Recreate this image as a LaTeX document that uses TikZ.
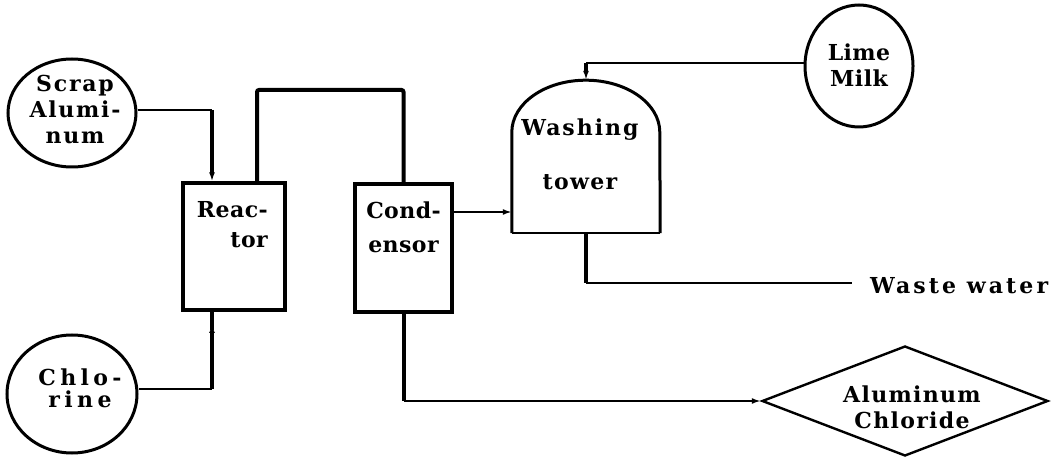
\documentclass[tikz,border=0pt]{standalone}
\usepackage{fontspec}
\setmainfont{DejaVu Serif}
\usetikzlibrary{shapes.geometric,arrows.meta,calc}
\newcommand\lf[2]{\bfseries\fontsize{22}{#1}\selectfont\addfontfeature{LetterSpace=#2}}
\begin{document}
\begin{tikzpicture}[x=1pt,y=1pt,
  txt/.style={inner sep=0pt, align=center},
  vessel/.style={draw, line width=3pt, ellipse, inner sep=0pt},
  unitbox/.style={draw, line width=3.4pt, rectangle, inner sep=0pt},
  thinln/.style={line width=1.8pt},
  pipe/.style={line width=4pt},
  tip/.style={-{Latex[length=9pt,width=6pt]}},
]
\useasboundingbox (0,0) rectangle (1057,458);

% vessels
\node[vessel, minimum width=128pt, minimum height=108pt] (scrap) at (72,345) {};
\node[vessel, minimum width=130pt, minimum height=118pt] (chlor) at (72,64) {};
\node[vessel, minimum width=108pt, minimum height=122pt] (lime) at (859,392) {};

% units
\node[unitbox, minimum width=102pt, minimum height=127pt] (reactor) at (234,211.5) {};
\node[unitbox, minimum width=97pt, minimum height=128pt] (condensor) at (403.5,210) {};
\node[inner sep=0pt, minimum width=148pt, minimum height=153pt] (tower) at (586,301.5) {};
\draw[line width=3pt] (tower.south west) -- ++(0,101)
  arc[start angle=180,end angle=0,x radius=74,y radius=52] -- (tower.south east);
\draw[line width=2pt] (tower.south west) -- (tower.south east);
\node[draw, diamond, line width=2.4pt, minimum width=286pt, minimum height=110pt, inner sep=0pt] (alcl) at (905,57) {};

% labels
\node[txt, font={\lf{26}{8}}] at (75,349) {Scrap\\Alumi-\\num};
\node[txt, font={\lf{22}{20}}] at (80,70) {Chlo-\\rine};
\node[txt, font={\lf{26}{2}}] at (859,393) {Lime\\Milk};
\node[txt, align=right, anchor=north east, font={\lf{30}{2}}] at (268,257) {Reac-\\tor};
\node[txt, anchor=north, font={\lf{34}{2}}] at (403.5,256) {Cond-\\ensor};
\node[txt, font={\lf{26}{9}}] at (580,328) {Washing};
\node[txt, font={\lf{26}{6}}] at (580,276) {tower};
\node[txt, font={\lf{26}{6}}] at (912,51) {Aluminum\\Chloride};
\node[txt, anchor=west, font={\lf{26}{14}}] (waste) at (870,172) {Waste water};

% connectors
\coordinate (b1) at (212,348);
\draw[thinln] (scrap.east |- b1) -- (b1);
\draw[pipe, tip] (b1) -- (reactor.north -| b1);

\coordinate (b2) at (212,69);
\draw[thinln] (chlor.east |- b2) -- (b2);
\draw[pipe, tip] (b2) -- (b2 |- 0,134);
\draw[pipe] (b2 |- 0,128) -- (reactor.south -| b2);

\coordinate (p1) at (257,368);
\draw[pipe, rounded corners=2pt] (reactor.north -| p1) -- (p1) -| (condensor.north);

\draw[thinln, tip] (condensor.east |- 0,246) -- (tower.west |- 0,246);

\coordinate (b3) at (586,395);
\draw[thinln] (lime.west |- b3) -- (b3);
\draw[pipe, tip] (b3) -- (tower.north);

\coordinate (b4) at (586,175);
\draw[pipe] (tower.south) -- (b4);
\draw[thinln] (b4) -- ([xshift=-18pt]waste.west |- b4);

\coordinate (b5) at (403.5,57);
\draw[pipe] (condensor.south) -- (b5);
\draw[thinln, tip] (b5) -- (alcl.west);
\end{tikzpicture}
\end{document}
